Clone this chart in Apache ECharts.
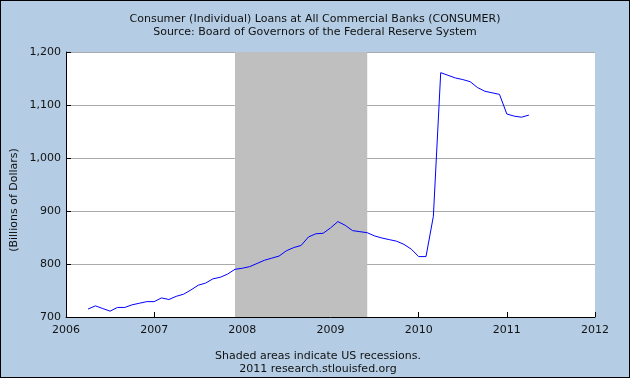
<!DOCTYPE html>
<html>
<head>
<meta charset="utf-8">
<script src="https://cdn.jsdelivr.net/npm/echarts@6/dist/echarts.min.js"></script>
<style>
  html, body { margin: 0; padding: 0; background: #b4cde4; }
  #chart1 { width: 630px; height: 378px; box-sizing: border-box; border: 1px solid #000; }
</style>
</head>
<body>
<div id="chart1"></div>
<script>
// monthly, Apr 2006 .. Apr 2011
var months = [
  '2006-04','2006-05','2006-06','2006-07','2006-08','2006-09','2006-10','2006-11','2006-12',
  '2007-01','2007-02','2007-03','2007-04','2007-05','2007-06','2007-07','2007-08','2007-09','2007-10','2007-11','2007-12',
  '2008-01','2008-02','2008-03','2008-04','2008-05','2008-06','2008-07','2008-08','2008-09','2008-10','2008-11','2008-12',
  '2009-01','2009-02','2009-03','2009-04','2009-05','2009-06','2009-07','2009-08','2009-09','2009-10','2009-11','2009-12',
  '2010-01','2010-02','2010-03','2010-04','2010-05','2010-06','2010-07','2010-08','2010-09','2010-10','2010-11','2010-12',
  '2011-01','2011-02','2011-03','2011-04'
];
var consumer = [
  715, 721, 716, 711, 718, 718, 723, 726, 729,
  729, 736, 733, 739, 743, 751, 760, 764, 772, 775, 781, 790,
  792, 795, 801, 807, 811, 815, 825, 831, 835, 851, 857, 858,
  868, 880, 873, 863, 861, 859, 853, 849, 846, 843, 837, 828,
  814, 814, 890, 1161, 1156, 1151, 1148, 1144, 1133, 1126, 1123, 1120,
  1083, 1079, 1077, 1081
];
var recession = ['2007-12', '2009-06'];
var yTicks = [700, 800, 900, 1000, 1100, 1200];
var xYears = [2006, 2012];

function toYear(s) {
  var p = s.split('-');
  return +p[0] + (+p[1] - 1) / 12;
}

var font = 'DejaVu Sans';
var myChart1 = echarts.init(document.getElementById('chart1'));

var option1 = {
    backgroundColor: '#b4cde4',
    animation: false,
    textStyle: { fontFamily: font },
    title: {
        text: 'Consumer (Individual) Loans at All Commercial Banks (CONSUMER)',
        subtext: 'Source: Board of Governors of the Federal Reserve System',
        left: 'center',
        top: 7,
        itemGap: 0,
        textStyle: { fontSize: 11, fontWeight: 'normal', color: '#111', fontFamily: font, lineHeight: 13 },
        subtextStyle: { fontSize: 11, color: '#111', fontFamily: font, lineHeight: 13 }
    },
    grid: {
        left: 65, right: 34, top: 51, bottom: 60,
        show: true, backgroundColor: '#fff', borderWidth: 0
    },
    xAxis: {
        type: 'value',
        min: xYears[0], max: xYears[1], interval: 1,
        axisLine: { lineStyle: { color: '#000', width: 1 } },
        axisTick: { inside: true, length: 5, lineStyle: { color: '#000' } },
        axisLabel: { color: '#111', fontSize: 11, margin: 8, formatter: function (v) { return String(v); } },
        splitLine: { show: false }
    },
    yAxis: {
        type: 'value',
        min: yTicks[0], max: yTicks[yTicks.length - 1], interval: 100,
        axisLine: { show: true, lineStyle: { color: '#000', width: 1 } },
        axisTick: { show: true, inside: true, length: 5, lineStyle: { color: '#000' } },
        axisLabel: { color: '#111', fontSize: 11, margin: 5, formatter: function (v) { return v.toLocaleString('en-US'); } },
        splitLine: { show: true, lineStyle: { color: '#aaa', width: 1 } }
    },
    graphic: [
        {
            type: 'text', x: 13, y: 199, rotation: Math.PI / 2,
            style: { text: '(Billions of Dollars)', fill: '#111', font: '11px "DejaVu Sans"', align: 'center', verticalAlign: 'middle' }
        },
        {
            type: 'text', x: 317, y: 355,
            style: { text: 'Shaded areas indicate US recessions.', fill: '#111', font: '11px "DejaVu Sans"', align: 'center', verticalAlign: 'middle' }
        },
        {
            type: 'text', x: 317, y: 368,
            style: { text: '2011 research.stlouisfed.org', fill: '#111', font: '11px "DejaVu Sans"', align: 'center', verticalAlign: 'middle' }
        }
    ],
    series: [
        {
            name: 'CONSUMER',
            type: 'line',
            showSymbol: false,
            symbol: 'none',
            lineStyle: { color: '#0000ff', width: 1 },
            data: months.map(function (m, i) { return [toYear(m), consumer[i]]; }),
            markArea: {
                silent: true,
                itemStyle: { color: '#bfbfbf', opacity: 1 },
                data: [[{ xAxis: toYear(recession[0]) }, { xAxis: toYear(recession[1]) }]]
            }
        }
    ]
};
myChart1.setOption(option1);
</script>
</body>
</html>
